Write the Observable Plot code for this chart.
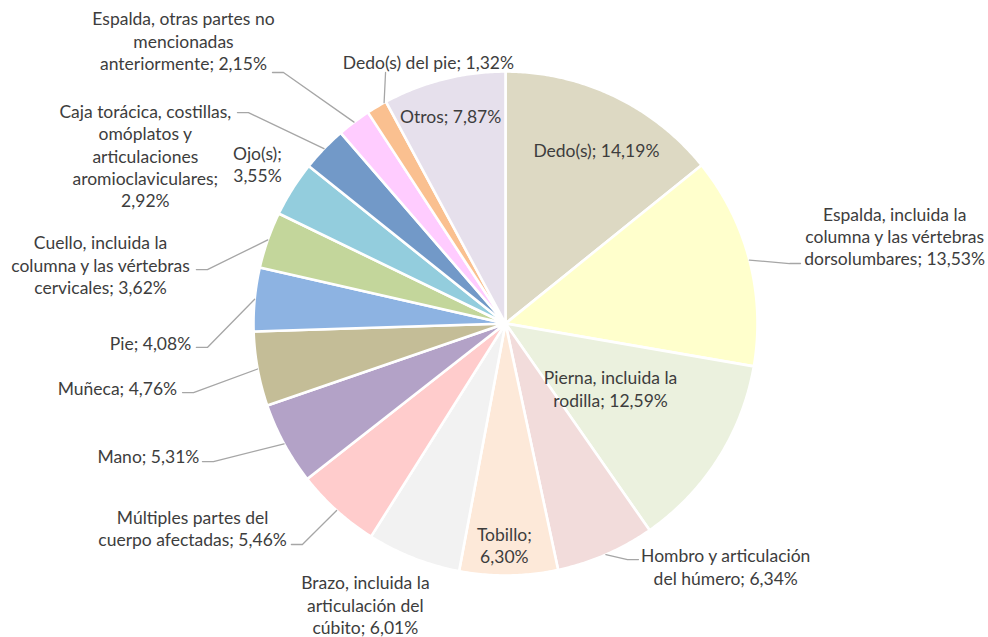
<!DOCTYPE html>
<html>
<head>
<meta charset="utf-8">
<script src="https://cdn.jsdelivr.net/npm/d3@7"></script>
<script src="https://cdn.jsdelivr.net/npm/@observablehq/plot@0.6"></script>
<style>
  html, body { margin: 0; padding: 0; background: #fff; }
  #chart { width: 988px; height: 637px; }
</style>
</head>
<body>
<div id="chart"></div>
<script>
// ---- Data ----
const categories = [
  "Dedo(s)",
  "Espalda, incluida la columna y las vértebras dorsolumbares",
  "Pierna, incluida la rodilla",
  "Hombro y articulación del húmero",
  "Tobillo",
  "Brazo, incluida la articulación del cúbito",
  "Múltiples partes del cuerpo afectadas",
  "Mano",
  "Muñeca",
  "Pie",
  "Cuello, incluida la columna y las vértebras cervicales",
  "Ojo(s)",
  "Caja torácica, costillas, omóplatos y articulaciones aromioclaviculares",
  "Espalda, otras partes no mencionadas anteriormente",
  "Dedo(s) del pie",
  "Otros"
];
const values = [14.19, 13.53, 12.59, 6.34, 6.30, 6.01, 5.46, 5.31, 4.76, 4.08, 3.62, 3.55, 2.92, 2.15, 1.32, 7.87];

// ---- Styles ----
const colors = [
  "#DDD9C3", "#FFFFCC", "#EBF1DE", "#F2DCDB", "#FDE9D9", "#F2F2F2", "#FFCCCC", "#B3A2C7",
  "#C4BD97", "#8DB3E2", "#C3D69B", "#93CDDD", "#7299C8", "#FFCCFF", "#FAC090", "#E6E0EC"
];
// label wrapping ({v} = formatted value)
const labelTemplates = [
  "Dedo(s); {v}",
  "Espalda, incluida la\ncolumna y las vértebras\ndorsolumbares; {v}",
  "Pierna, incluida la\nrodilla; {v}",
  "Hombro y articulación\ndel húmero; {v}",
  "Tobillo;\n{v}",
  "Brazo, incluida la\narticulación del\ncúbito; {v}",
  "Múltiples partes del\ncuerpo afectadas; {v}",
  "Mano; {v}",
  "Muñeca; {v}",
  "Pie; {v}",
  "Cuello, incluida la\ncolumna y las vértebras\ncervicales; {v}",
  "Ojo(s);\n{v}",
  "Caja torácica, costillas,\nomóplatos y\narticulaciones\naromioclaviculares;\n{v}",
  "Espalda, otras partes no\nmencionadas\nanteriormente; {v}",
  "Dedo(s) del pie; {v}",
  "Otros; {v}"
];
// ---- Layout (pie in radius units: center 0,0, radius 1) ----
const W = 988, H = 637, CX = 505, CY = 323, R = 252;
// label block centre in polar form: r (radius units), a (degrees clockwise from top)
const labelPolar = [
  {r: 0.776, a: 27.7}, {r: 1.583, a: 77.3}, {r: 0.490, a: 121.7}, {r: 1.301, a: 137.8},
  {r: 0.877, a: 180.3}, {r: 1.246, a: 206.5}, {r: 1.484, a: 236.8}, {r: 1.511, a: 249.7},
  {r: 1.561, a: 260.6}, {r: 1.411, a: 266.8}, {r: 1.624, a: 278.3}, {r: 1.171, a: 302.8},
  {r: 1.577, a: 295.0}, {r: 1.701, a: 311.3}, {r: 1.084, a: 343.6}, {r: 0.853, a: 345.2}
];
// leader lines: elbow point (radius units), side of the label, optional start angle
const leaders = [
  null,
  {ex: 1.127, ey: 0.238, side: "right"},
  null,
  {ex: 0.484, ey: -0.937, side: "right"},
  null, null,
  {ex: -0.806, ey: -0.877, side: "left"},
  {ex: -1.159, ey: -0.548, side: "left"},
  {ex: -1.238, ey: -0.274, side: "left"},
  {ex: -1.183, ey: -0.095, side: "left"},
  {ex: -1.183, ey: 0.214, side: "left"},
  null,
  {ex: -1.020, ey: 0.837, side: "left"},
  {ex: -0.881, ey: 0.996, side: "left"},
  {ex: -0.476, ey: 0.996, side: "none", startA: 331.2},
  null
];

const fmt = v => v.toFixed(2).replace(".", ",") + "%";
const rad = d => d * Math.PI / 180;

// slice angles via d3.pie (clockwise from 12 o'clock, in data order)
const arcs = d3.pie().sort(null).value(d => d.value)(categories.map((c, i) => ({c, i, value: values[i]})));

const slicePts = [];
for (const s of arcs) {
  const {c, i} = s.data;
  const n = Math.max(2, Math.ceil((s.endAngle - s.startAngle) / rad(0.5)));
  slicePts.push({c, x: 0, y: 0, color: colors[i]});
  for (let k = 0; k <= n; k++) {
    const a = s.startAngle + (s.endAngle - s.startAngle) * k / n;
    slicePts.push({c, x: Math.sin(a), y: Math.cos(a), color: colors[i]});
  }
  slicePts.push({c, x: 0, y: 0, color: colors[i]});
}

const labels = arcs.map(s => {
  const {c, i} = s.data;
  const p = labelPolar[i];
  return {c, x: p.r * Math.sin(rad(p.a)), y: p.r * Math.cos(rad(p.a)),
          text: labelTemplates[i].replace("{v}", fmt(values[i]))};
});

const seg = 11 / R;
const leaderPts = [];
arcs.forEach(s => {
  const {c, i} = s.data;
  const L = leaders[i];
  if (!L) return;
  const a = L.startA != null ? rad(L.startA) : (s.startAngle + s.endAngle) / 2;
  leaderPts.push({c, x: Math.sin(a), y: Math.cos(a)});
  leaderPts.push({c, x: L.ex, y: L.ey});
  if (L.side === "left") leaderPts.push({c, x: L.ex - seg, y: L.ey});
  if (L.side === "right") leaderPts.push({c, x: L.ex + seg, y: L.ey});
});

const chart = Plot.plot({
  width: W,
  height: H,
  margin: 0,
  x: {domain: [-CX / R, (W - CX) / R], axis: null},
  y: {domain: [-(H - CY) / R, CY / R], axis: null},
  color: {type: "identity"},
  style: {background: "#fff", fontFamily: "Lato, 'Open Sans', sans-serif"},
  marks: [
    Plot.line(slicePts, {x: "x", y: "y", z: "c", fill: "color", stroke: "#fff", strokeWidth: 2.6, curve: "linear"}),
    Plot.line(leaderPts, {x: "x", y: "y", z: "c", stroke: "#A6A6A6", strokeWidth: 1.3, curve: "linear"}),
    Plot.text(labels, {x: "x", y: "y", text: "text", fontSize: 17.5, lineHeight: 1.27, fill: "#3d3d3d",
                       textAnchor: "middle", lineAnchor: "middle", fontFamily: "Lato"})
  ]
});
document.getElementById("chart").appendChild(chart);
</script>
</body>
</html>
